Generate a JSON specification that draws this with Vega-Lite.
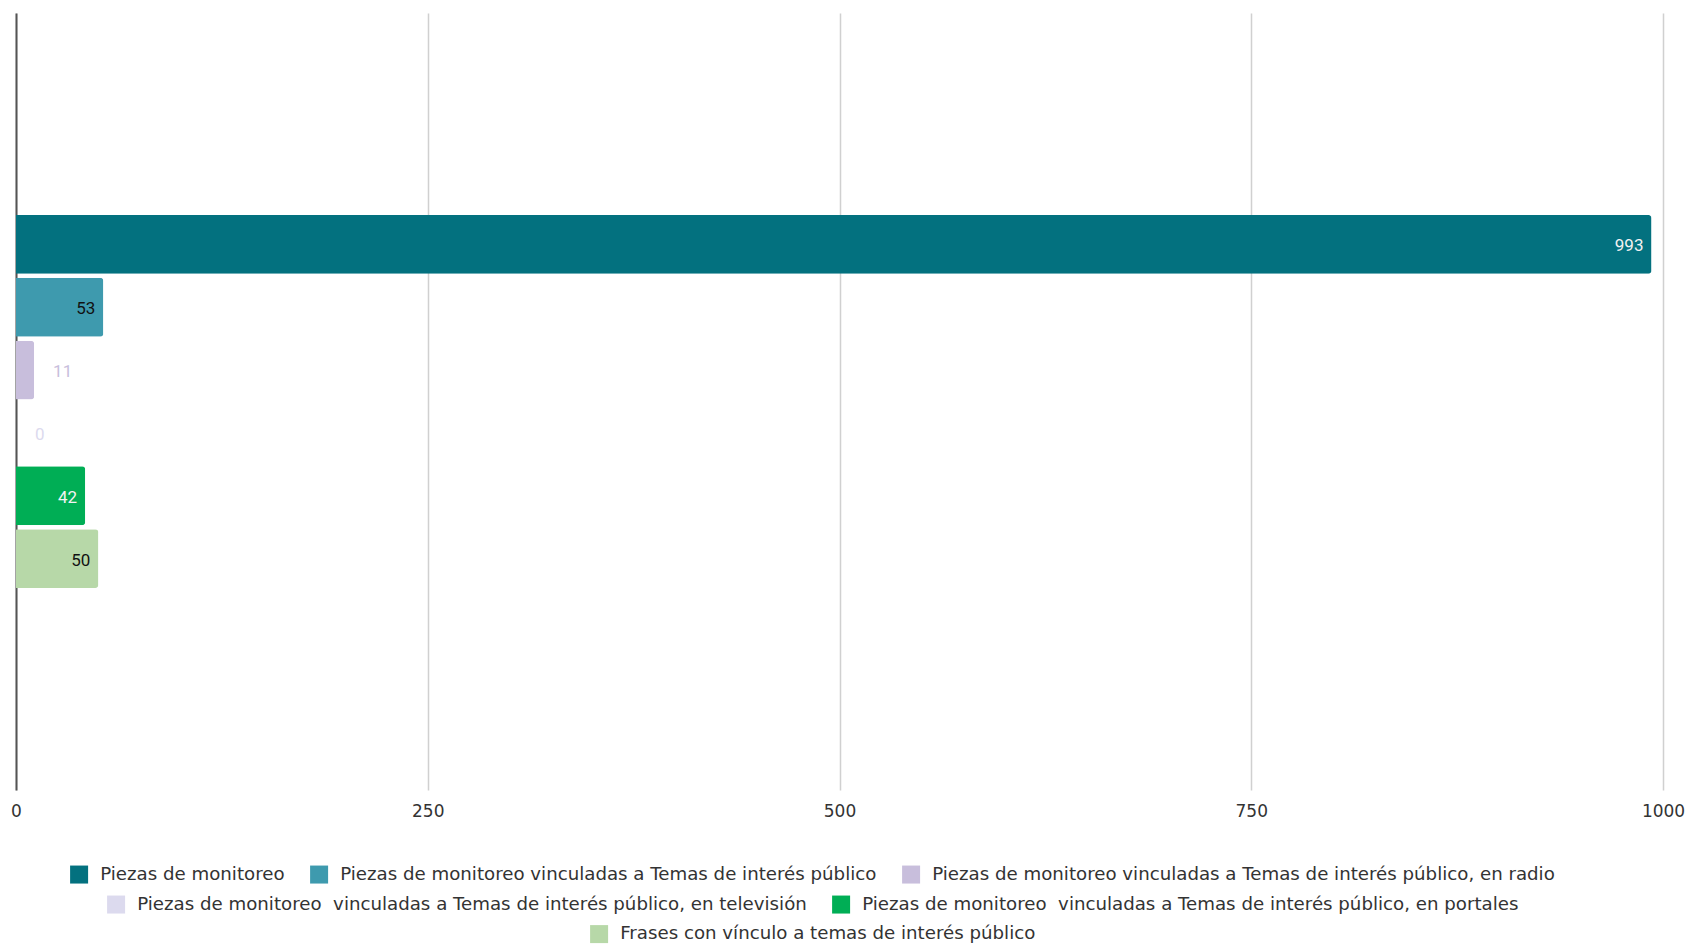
{
  "$schema": "https://vega.github.io/schema/vega-lite/v6.json",
  "width": 1647,
  "height": 777,
  "autosize": {"type": "none"},
  "padding": {"left": 16, "top": 13, "right": 26, "bottom": 157},
  "background": "white",
  "config": {"view": {"stroke": null}, "font": "DejaVu Sans"},
  "data": {
    "values": [
      {"series": "Piezas de monitoreo", "value": 993},
      {"series": "Piezas de monitoreo vinculadas a Temas de interés público", "value": 53},
      {"series": "Piezas de monitoreo vinculadas a Temas de interés público, en radio", "value": 11},
      {"series": "Piezas de monitoreo  vinculadas a Temas de interés público, en televisión", "value": 0},
      {"series": "Piezas de monitoreo  vinculadas a Temas de interés público, en portales", "value": 42},
      {"series": "Frases con vínculo a temas de interés público", "value": 50}
    ]
  },
  "encoding": {
    "y": {
      "datum": "grupo",
      "type": "nominal",
      "scale": {"paddingInner": 0, "paddingOuter": 0.5416},
      "axis": {"labels": false, "ticks": false, "title": null, "grid": false, "domain": true, "domainColor": "#555555", "domainWidth": 2}
    },
    "yOffset": {
      "field": "series",
      "type": "nominal",
      "sort": null,
      "scale": {
        "domain": [
          "Piezas de monitoreo",
          "Piezas de monitoreo vinculadas a Temas de interés público",
          "Piezas de monitoreo vinculadas a Temas de interés público, en radio",
          "Piezas de monitoreo  vinculadas a Temas de interés público, en televisión",
          "Piezas de monitoreo  vinculadas a Temas de interés público, en portales",
          "Frases con vínculo a temas de interés público"
        ],
        "paddingInner": 0.064,
        "paddingOuter": 0
      }
    },
    "x": {
      "field": "value",
      "type": "quantitative",
      "scale": {"domain": [0, 1000], "nice": false},
      "axis": {
        "values": [0, 250, 500, 750, 1000],
        "format": "d",
        "title": null,
        "grid": true,
        "gridColor": "#d0d0d0",
        "gridWidth": 1.5,
        "domain": false,
        "ticks": false,
        "labelFlush": false,
        "labelFont": "DejaVu Sans",
        "labelFontSize": 17,
        "labelColor": "#333333",
        "labelPadding": 13
      }
    }
  },
  "layer": [
    {
      "transform": [{"filter": {"field": "series", "oneOf": ["Piezas de monitoreo", "Piezas de monitoreo vinculadas a Temas de interés público", "Piezas de monitoreo vinculadas a Temas de interés público, en radio"]}}],
      "mark": {"type": "bar", "cornerRadiusEnd": 3},
      "encoding": {
        "color": {
          "field": "series",
          "type": "nominal",
          "scale": {
            "domain": ["Piezas de monitoreo", "Piezas de monitoreo vinculadas a Temas de interés público", "Piezas de monitoreo vinculadas a Temas de interés público, en radio"],
            "range": ["#03717f", "#3e9aae", "#c8bedc"]
          },
          "legend": {"orient": "none", "legendX": 54, "legendY": 852, "direction": "horizontal", "columns": 3, "symbolType": "square", "symbolSize": 324, "symbolStrokeWidth": 0, "symbolOpacity": 1, "labelFontSize": 18.2, "labelFont": "DejaVu Sans", "labelColor": "#333333", "labelOffset": 12, "columnPadding": 25, "title": null, "labelLimit": 0}
        }
      }
    },
    {
      "transform": [{"filter": {"field": "series", "oneOf": ["Piezas de monitoreo  vinculadas a Temas de interés público, en televisión", "Piezas de monitoreo  vinculadas a Temas de interés público, en portales"]}}],
      "mark": {"type": "bar", "cornerRadiusEnd": 3},
      "encoding": {
        "color": {
          "field": "series",
          "type": "nominal",
          "scale": {
            "domain": ["Piezas de monitoreo  vinculadas a Temas de interés público, en televisión", "Piezas de monitoreo  vinculadas a Temas de interés público, en portales"],
            "range": ["#dcdaee", "#00ae55"]
          },
          "legend": {"orient": "none", "legendX": 91, "legendY": 882, "direction": "horizontal", "columns": 2, "symbolType": "square", "symbolSize": 324, "symbolStrokeWidth": 0, "symbolOpacity": 1, "labelFontSize": 18.2, "labelFont": "DejaVu Sans", "labelColor": "#333333", "labelOffset": 12, "columnPadding": 25, "title": null, "labelLimit": 0, "labelExpr": "replace(datum.label, '  ', '\u00a0 ')"}
        }
      }
    },
    {
      "transform": [{"filter": {"field": "series", "oneOf": ["Frases con vínculo a temas de interés público"]}}],
      "mark": {"type": "bar", "cornerRadiusEnd": 3},
      "encoding": {
        "color": {
          "field": "series",
          "type": "nominal",
          "scale": {
            "domain": ["Frases con vínculo a temas de interés público"],
            "range": ["#b7d8a8"]
          },
          "legend": {"orient": "none", "legendX": 574, "legendY": 912, "direction": "horizontal", "columns": 1, "symbolType": "square", "symbolSize": 324, "symbolStrokeWidth": 0, "symbolOpacity": 1, "labelFontSize": 18.2, "labelFont": "DejaVu Sans", "labelColor": "#333333", "labelOffset": 12, "columnPadding": 25, "title": null, "labelLimit": 0}
        }
      }
    },
    {
      "transform": [{"filter": "datum.value > 20"}],
      "mark": {"type": "text", "align": "right", "baseline": "middle", "dx": -8, "dy": 2, "font": "Roboto", "fontSize": 17},
      "encoding": {
        "text": {"field": "value", "type": "quantitative"},
        "color": {
          "condition": [
            {"test": "datum.series === 'Piezas de monitoreo'", "value": "#f2f2f2"},
            {"test": "datum.series === 'Piezas de monitoreo  vinculadas a Temas de interés público, en portales'", "value": "#f2f2f2"}
          ],
          "value": "#111111"
        }
      }
    },
    {
      "transform": [{"filter": "datum.value <= 20"}],
      "mark": {"type": "text", "align": "left", "baseline": "middle", "dx": 19, "dy": 2, "font": "Roboto", "fontSize": 17},
      "encoding": {
        "text": {"field": "value", "type": "quantitative"},
        "color": {
          "condition": [
            {"test": "datum.value > 5", "value": "#c8bedc"}
          ],
          "value": "#dcdaee"
        }
      }
    }
  ],
  "resolve": {"scale": {"color": "independent"}, "legend": {"color": "independent"}}
}
